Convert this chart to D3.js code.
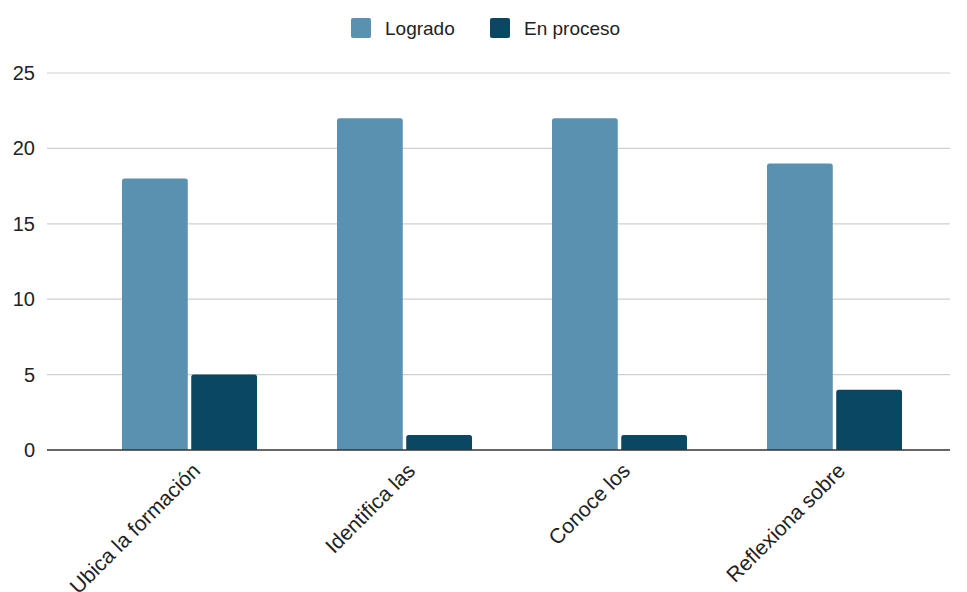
<!DOCTYPE html>
<html>
<head>
<meta charset="utf-8">
<script src="https://cdn.jsdelivr.net/npm/d3@7"></script>
<style>
  body { margin: 0; background: #fff; }
  text { font-family: "Liberation Sans", Arial, sans-serif; fill: #222; }
</style>
</head>
<body>
<div id="chart"></div>
<script>
const categories = ['Ubica la formación', 'Identifica las', 'Conoce los', 'Reflexiona sobre'];
const seriesNames = ['Logrado', 'En proceso'];
const logrado = [18, 22, 22, 19];
const enProceso = [5, 1, 1, 4];
const yTicks = [0, 5, 10, 15, 20, 25];
const colors = ['#5a91b1', '#0a4763'];

const W = 967, H = 592;
const svg = d3.select('#chart').append('svg').attr('width', W).attr('height', H);

const y = d3.scaleLinear().domain([0, 25]).range([450, 73]);
const x = d3.scaleBand().domain(categories).range([82, 942]).paddingInner(0.372).paddingOuter(0.186);
const xs = d3.scaleBand().domain(seriesNames).range([0, x.bandwidth()]).paddingInner(0.05);

// grid
svg.append('g').selectAll('line').data(yTicks.filter(d => d > 0)).join('line')
  .attr('x1', 47).attr('x2', 950)
  .attr('y1', d => y(d)).attr('y2', d => y(d))
  .attr('stroke', '#cfcfcf').attr('stroke-width', 1.2);

// y labels
svg.append('g').selectAll('text').data(yTicks).join('text')
  .attr('x', 35).attr('y', d => y(d) + 7)
  .attr('text-anchor', 'end').style('font-size', '20px')
  .text(d => d);

// bars
const data = categories.map((c, i) => ({ c, vals: [logrado[i], enProceso[i]] }));
const r = 2.5;
function barPath(x0, w, top, bottom) {
  return `M${x0},${bottom}V${top + r}Q${x0},${top} ${x0 + r},${top}H${x0 + w - r}Q${x0 + w},${top} ${x0 + w},${top + r}V${bottom}Z`;
}
const groups = svg.append('g').selectAll('g').data(data).join('g')
  .attr('transform', d => `translate(${x(d.c)},0)`);
groups.selectAll('path').data(d => d.vals.map((v, k) => ({ v, s: seriesNames[k], k }))).join('path')
  .attr('d', d => barPath(xs(d.s), xs.bandwidth(), y(d.v), y(0)))
  .attr('fill', d => colors[d.k]);

// baseline
svg.append('line').attr('x1', 47).attr('x2', 950).attr('y1', y(0)).attr('y2', y(0))
  .attr('stroke', '#333').attr('stroke-width', 1.5);

// x labels
svg.append('g').selectAll('text').data(categories).join('text')
  .attr('transform', d => `translate(${x(d) + x.bandwidth() / 2 + 12},${y(0) + 22}) rotate(-45)`)
  .attr('text-anchor', 'end').style('font-size', '21px')
  .text(d => d);

// legend
const legend = svg.append('g');
const legendX = [351, 490];
seriesNames.forEach((s, i) => {
  legend.append('rect').attr('x', legendX[i]).attr('y', 18).attr('width', 20).attr('height', 20)
    .attr('rx', 2).attr('fill', colors[i]);
  legend.append('text').attr('x', legendX[i] + 34).attr('y', 35)
    .style('font-size', '19px').text(s);
});
</script>
</body>
</html>
